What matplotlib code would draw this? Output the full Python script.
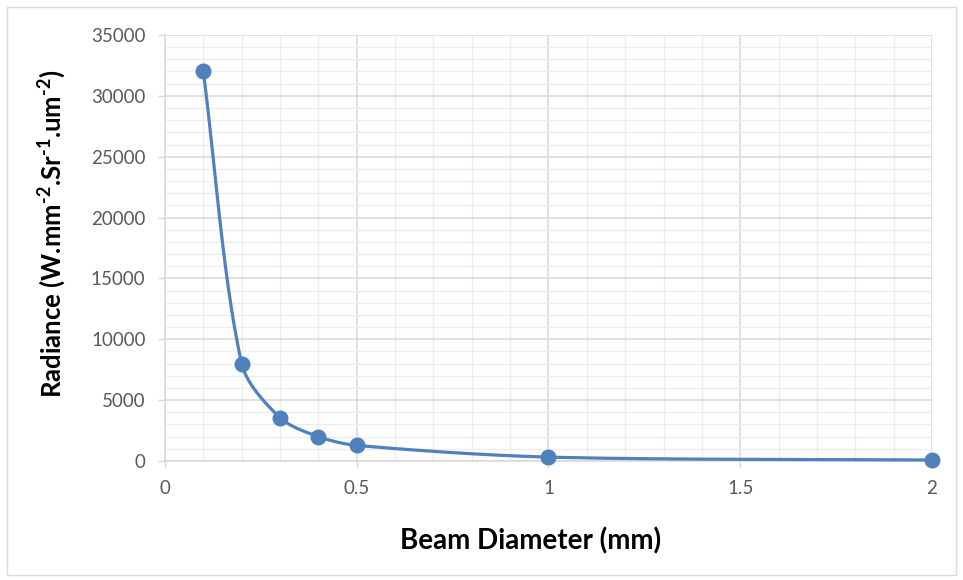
import matplotlib
matplotlib.use("Agg")
import matplotlib.pyplot as plt
from matplotlib.patches import Rectangle
import numpy as np

# Beam diameter (mm) and radiance
diameter = [0.1, 0.2, 0.3, 0.4, 0.5, 1.0, 2.0]
radiance = [32000, 8000, 3556, 2000, 1280, 320, 80]

x_ticks = [0, 0.5, 1, 1.5, 2]
x_tick_labels = ["0", "0.5", "1", "1.5", "2"]
y_ticks = [0, 5000, 10000, 15000, 20000, 25000, 30000, 35000]

plt.rcParams["font.family"] = ["Lato", "DejaVu Sans"]
plt.rcParams["mathtext.fontset"] = "custom"
plt.rcParams["mathtext.rm"] = "Lato:bold"
plt.rcParams["mathtext.default"] = "rm"

blue = "#4F81BD"
grid_major = "#D9D9D9"
grid_minor = "#EDEDED"
text_grey = "#595959"

fig = plt.figure(figsize=(9.63, 5.8), dpi=100)
fig.patches.append(Rectangle((0.007, 0.009), 0.986, 0.979, transform=fig.transFigure,
                             fill=False, edgecolor="#D9D9D9", linewidth=1))
ax = fig.add_axes([0.1713, 0.2052, 0.7965, 0.7345])

ax.set_xlim(0, 2)
ax.set_ylim(0, 35000)


# smooth line through the points, tangents scaled by segment length (no overshoot)
def smooth(xs, ys, n=60, k=0.3):
    sx, sy = 2.0 / 767, 35000 / 426
    pts = np.column_stack([np.array(xs) / sx, np.array(ys) / sy])
    m = len(pts)
    tang = []
    for i in range(m):
        d = pts[min(i + 1, m - 1)] - pts[max(i - 1, 0)]
        tang.append(d / np.linalg.norm(d))
    out = []
    t = np.linspace(0, 1, n)[:, None]
    for i in range(m - 1):
        p1, p2 = pts[i], pts[i + 1]
        L = np.linalg.norm(p2 - p1)
        c1 = p1 + tang[i] * L * k
        c2 = p2 - tang[i + 1] * L * k
        seg = (1 - t) ** 3 * p1 + 3 * (1 - t) ** 2 * t * c1 + 3 * (1 - t) * t ** 2 * c2 + t ** 3 * p2
        out.append(seg)
    out = np.vstack(out)
    return out[:, 0] * sx, out[:, 1] * sy


cx, cy = smooth(diameter, radiance)
ax.plot(cx, cy, color=blue, linewidth=2.3, zorder=3, clip_on=False)
ax.plot(diameter, radiance, "o", color=blue, markersize=10.5, zorder=4, clip_on=False)

ax.set_xticks(x_ticks)
ax.set_xticklabels(x_tick_labels)
ax.set_yticks(y_ticks)
ax.set_xticks(np.arange(0, 2.01, 0.1), minor=True)
ax.set_yticks(np.arange(0, 35001, 1000), minor=True)
ax.grid(which="major", color=grid_major, linewidth=1.1, zorder=0)
ax.grid(which="minor", color=grid_minor, linewidth=1.0, zorder=0)
ax.set_axisbelow(True)

for s in ["top", "right"]:
    ax.spines[s].set_visible(False)
for s in ["left", "bottom"]:
    ax.spines[s].set_color(grid_major)
    ax.spines[s].set_linewidth(1.1)

ax.tick_params(which="major", length=5, width=1, color=grid_major, labelcolor=text_grey,
               labelsize=13.5, pad=9)
ax.tick_params(which="minor", length=0)

ax.set_xlabel("Beam Diameter (mm)", fontsize=20, fontweight="bold")
ax.xaxis.set_label_coords(0.476, -0.155)
ax.set_ylabel(r"Radiance (W.mm$^{\text{-}2}$.Sr$^{\text{-}1}$.um$^{\text{-}2}$)", fontsize=18.5,
              fontweight="bold")
ax.yaxis.set_label_coords(-0.126, 0.533)

fig.savefig("out.png", dpi=100)
